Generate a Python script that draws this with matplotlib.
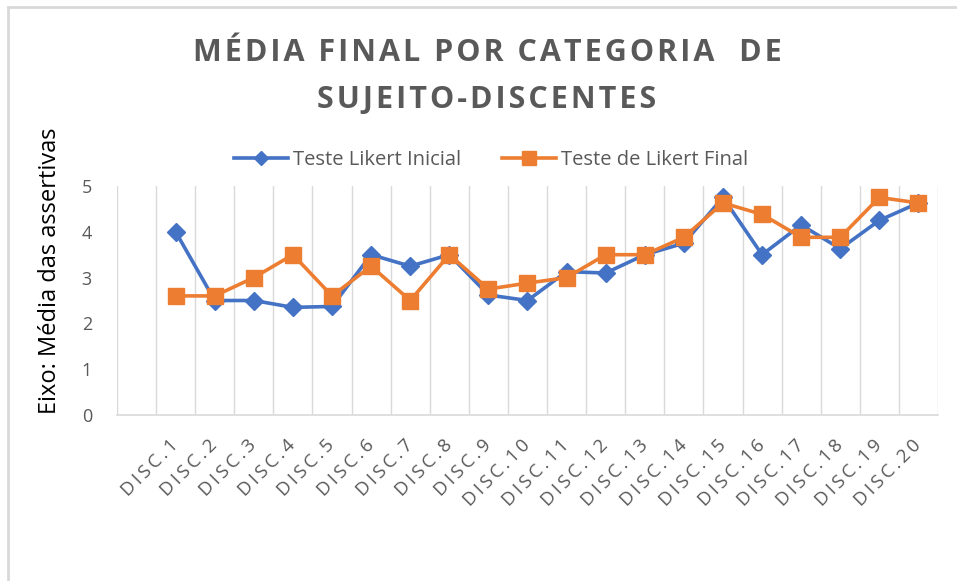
import numpy as np
import matplotlib
matplotlib.use("Agg")
import matplotlib.pyplot as plt
from matplotlib.patches import Rectangle

categories = ["DISC.%d" % i for i in range(1, 21)]
inicial = [4.0, 2.5, 2.5, 2.35, 2.37, 3.5, 3.25, 3.5, 2.62, 2.5,
           3.13, 3.1, 3.5, 3.75, 4.75, 3.5, 4.15, 3.63, 4.25, 4.63]
final = [2.6, 2.6, 3.0, 3.5, 2.6, 3.25, 2.5, 3.5, 2.75, 2.88,
         3.0, 3.5, 3.5, 3.88, 4.63, 4.38, 3.88, 3.88, 4.75, 4.63]
yticks = [0, 1, 2, 3, 4, 5]
title_lines = ["MÉDIA FINAL POR CATEGORIA  DE", "SUJEITO-DISCENTES"]

plt.rcParams['font.family'] = ['Open Sans', 'DejaVu Sans']
gray = "#595959"
grid = "#d9d9d9"


def spaced(s, gap):
    # no letter-spacing in matplotlib, so pad the letters with thin spaces
    return gap.join(s)


fig = plt.figure(figsize=(9.57, 5.81), dpi=100)
fig.patches.append(Rectangle((8 / 957, -0.1), 1.2, 1 - 7 / 581 + 0.1,
                             transform=fig.transFigure, fill=False,
                             edgecolor=grid, linewidth=2))

ax = fig.add_axes([117 / 957, 1 - 415 / 581, 821 / 957, 229 / 581])

# first slot of the category axis is empty, as in the original sheet
x = np.arange(1, len(categories) + 1)
ax.plot(x, inicial, color="#4472C4", lw=2.6, marker="D", ms=9,
        label="Teste Likert Inicial", zorder=3)
ax.plot(x, final, color="#ED7D31", lw=2.6, marker="s", ms=12,
        label="Teste de Likert Final", zorder=4)

ax.set_xlim(-0.5, len(categories) + 0.5)
ax.set_ylim(0, 5)
for b in np.arange(-0.5, len(categories) + 1):
    ax.axvline(b, color=grid, lw=1, zorder=1)

for s in ["top", "right", "left"]:
    ax.spines[s].set_visible(False)
ax.spines["bottom"].set_color(grid)
ax.spines["bottom"].set_linewidth(1.2)

ax.set_yticks(yticks)
ax.set_yticklabels([str(t) for t in yticks], color=gray, fontsize=13)
ax.tick_params(axis="y", length=0, pad=18)
ax.set_xticks(x)
ax.set_xticklabels([spaced(c, "\u2009") for c in categories], rotation=45,
                   ha="right", va="center", rotation_mode="anchor",
                   color=gray, fontsize=13.5)
ax.tick_params(axis="x", length=0, pad=20)

ax.set_ylabel("Eixo: Média das assertivas", fontsize=17, color="black")
ax.yaxis.label.set_va("center")
ax.yaxis.set_label_coords(-0.082, 0.63)

for i, line in enumerate(title_lines):
    fig.text(487 / 957, 1 - (53 + 47 * i) / 581, spaced(line, "\u200a"),
             ha="center", va="center", fontsize=22, fontweight="bold",
             color=gray)

leg = fig.legend(loc="center", bbox_to_anchor=(491 / 957, 1 - 160 / 581),
                 ncol=2, frameon=False, fontsize=14.5, handlelength=2.7,
                 handletextpad=0.25, columnspacing=2.0, markerscale=0.8)
for t in leg.get_texts():
    t.set_color(gray)

fig.savefig("out.png", dpi=100)
